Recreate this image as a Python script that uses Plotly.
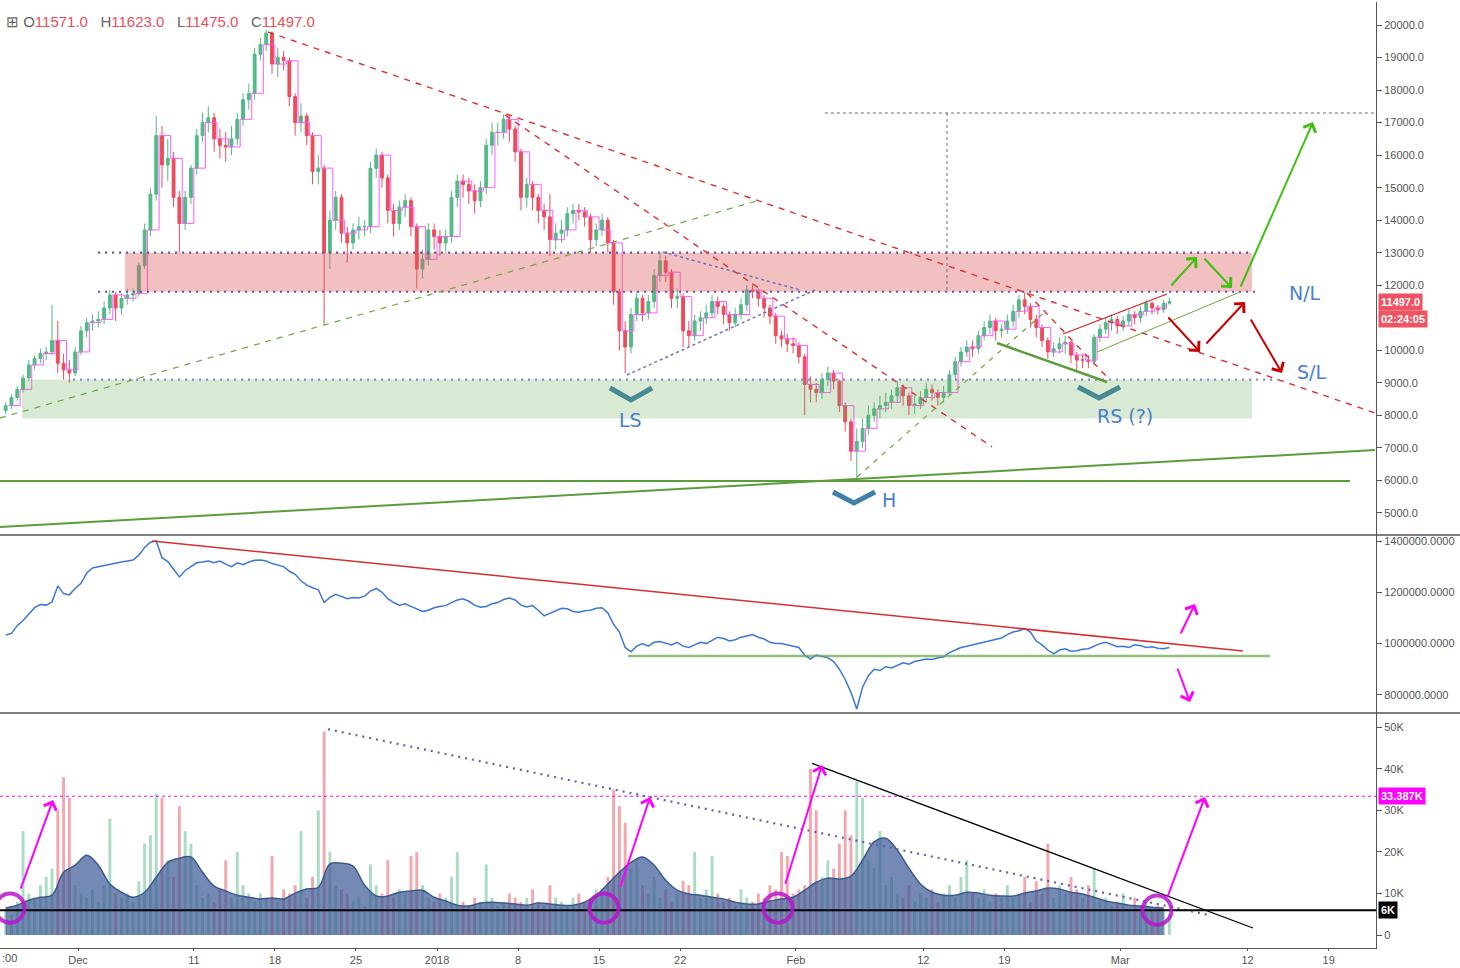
import plotly.graph_objects as go
from datetime import datetime, timedelta

# ---------------- data (12h candles, BTCUSD) ----------------
closes = [
    8300, 8550, 8800, 9150, 9550, 9750, 9900, 9950, 10300, 9600,
    9400, 9300, 9950, 10600, 10850, 10900, 10950, 11300, 11700, 11300,
    11600, 11700, 11750, 12600, 13700, 14800, 16600, 15700, 15900, 14700,
    13900, 14700, 15600, 16600, 17000, 17150, 16500, 16300, 16250, 16500,
    17100, 17700, 17900, 19100, 19400, 19750, 18800, 19000, 18900, 17800,
    17000, 17200, 16600, 15500, 15600, 13000, 14000, 14700, 13600, 13300,
    13700, 13800, 13800, 15600, 16000, 15300, 14300, 13900, 14400, 14600,
    13800, 12500, 12800, 13700, 13500, 13300, 13500, 14700, 15200, 15100,
    14900, 14600, 15000, 16300, 16700, 16700, 17100, 16800, 16100, 14700,
    15100, 14700, 14300, 14100, 13400, 13600, 13700, 14200, 14300, 14250,
    14100, 13400, 13700, 14000, 13300, 11800, 10600, 10100, 11100, 11600,
    11150, 11500, 12300, 12750, 12400, 11600, 11650, 10600, 10450, 10900,
    11000, 11150, 11500, 11350, 11100, 10850, 11100, 11400, 11850, 11800,
    11600, 11300, 11050, 10450, 10350, 10200, 10150, 9800, 8950, 8800,
    8700, 9100, 9300, 9050, 8300, 7800, 6900, 7200, 7600, 8000,
    8200, 8300, 8400, 8600, 8850, 8600, 8300, 8350, 8550, 8800,
    8700, 8550, 8700, 9250, 9650, 9950, 10100, 10050, 10450, 10700,
    10900, 10600, 10650, 10900, 11200, 11550, 11350, 10950, 10700, 10300,
    9950, 10050, 10200, 10250, 9850, 9700, 9700, 9650, 10400, 10650,
    10850, 10950, 10750, 10900, 11100, 11000, 11200, 11450, 11300, 11250,
    11450, 11497,
]
highs = [
    8400, 8650, 8900, 9250, 9700, 9850, 10050, 10100, 11400, 10900,
    9900, 9700, 10100, 10750, 11000, 11100, 11200, 11500, 11850, 11800,
    11750, 11900, 11900, 12700, 13900, 15000, 17200, 16900, 16500, 16100,
    14900, 14900, 15700, 16800, 17300, 17500, 17300, 16800, 16700, 16900,
    17300, 17900, 18200, 19300, 19600, 19850, 19800, 19300, 19200, 19000,
    17900, 17600, 17300, 16700, 16000, 15700, 14300, 14900, 14800, 13800,
    13900, 14100, 14000, 15800, 16200, 16100, 15400, 14500, 14600, 14800,
    14700, 13900, 13100, 13900, 13900, 13700, 13700, 14900, 15400, 15400,
    15300, 15100, 15200, 16500, 17000, 17000, 17250, 17200, 16900, 16200,
    15300, 15200, 14800, 14500, 14800, 13900, 14000, 14400, 14500, 14500,
    14400, 14200, 13900, 14200, 14100, 13400, 11900, 10900, 11300, 11800,
    11700, 11700, 12500, 13000, 12900, 12500, 11900, 11750, 10900, 11100,
    11200, 11400, 11700, 11650, 11450, 11200, 11300, 11600, 12000, 12050,
    11900, 11700, 11400, 11150, 10600, 10500, 10400, 10250, 9900, 9200,
    9000, 9300, 9500, 9400, 9100, 8400, 7900, 7600, 7900, 8300,
    8400, 8600, 8700, 8800, 9050, 8950, 8700, 8600, 8750, 9000,
    8950, 8800, 8900, 9400, 9800, 10100, 10300, 10300, 10600, 10900,
    11100, 11000, 10800, 11100, 11400, 11700, 11780, 11450, 11100, 10800,
    10400, 10250, 10400, 10450, 10300, 9950, 9900, 9850, 10500, 10800,
    11000, 11100, 11050, 11050, 11250, 11200, 11350, 11550, 11500, 11400,
    11550, 11623,
]
lows = [
    8050, 8200, 8450, 8700, 9050, 9400, 9600, 9700, 9850, 9300,
    9100, 9000, 9200, 9850, 10400, 10600, 10700, 10800, 11100, 10900,
    11100, 11400, 11500, 11650, 12500, 13500, 14600, 15000, 15200, 14400,
    13000, 13700, 14500, 15400, 16400, 16700, 16100, 15900, 15800, 16000,
    16300, 16900, 17400, 17700, 18900, 19200, 18500, 18400, 18600, 17500,
    16600, 16700, 16300, 15100, 15100, 10800, 12500, 13700, 13300, 12700,
    13100, 13400, 13500, 13600, 15300, 15000, 13900, 13500, 13700, 14100,
    13500, 11900, 12200, 12600, 13100, 12900, 13000, 13300, 14400, 14700,
    14500, 14200, 14400, 14800, 16000, 16300, 16500, 16400, 15800, 14300,
    14400, 14300, 13900, 13700, 12900, 13100, 13300, 13500, 13900, 14000,
    13800, 13000, 13200, 13500, 13000, 11400, 10000, 9300, 9900, 10900,
    10900, 10950, 11300, 12100, 12100, 11300, 11300, 10100, 10100, 10300,
    10600, 10800, 11000, 11100, 10800, 10600, 10700, 10950, 11200, 11600,
    11350, 11000, 10800, 10200, 10100, 9950, 9900, 9600, 8000, 8400,
    8400, 8500, 8900, 8800, 8100, 7500, 6600, 6000, 7000, 7400,
    7800, 7900, 8100, 8200, 8400, 8300, 8000, 8050, 8200, 8400,
    8450, 8300, 8400, 8600, 9100, 9500, 9800, 9800, 9900, 10300,
    10500, 10300, 10400, 10500, 10700, 11000, 11100, 10700, 10400, 10100,
    9750, 9800, 9900, 9900, 9600, 9400, 9450, 9450, 9550, 10250,
    10500, 10600, 10500, 10600, 10750, 10800, 10850, 11050, 11100, 11100,
    11150, 11400,
]
first_open = 8150

indicator = [
    1033000, 1040000, 1070000, 1090000, 1115000, 1140000, 1152000, 1150000, 1162000, 1225000,
    1195000, 1190000, 1215000, 1235000, 1275000, 1295000, 1300000, 1305000, 1310000, 1315000,
    1318000, 1322000, 1326000, 1345000, 1375000, 1395000, 1400000, 1335000, 1320000, 1290000,
    1260000, 1285000, 1300000, 1315000, 1318000, 1322000, 1315000, 1322000, 1310000, 1300000,
    1315000, 1308000, 1318000, 1325000, 1326000, 1322000, 1312000, 1306000, 1300000, 1282000,
    1270000, 1245000, 1228000, 1218000, 1210000, 1160000, 1180000, 1192000, 1185000, 1175000,
    1180000, 1178000, 1185000, 1205000, 1215000, 1200000, 1175000, 1160000, 1150000, 1155000,
    1145000, 1135000, 1125000, 1130000, 1140000, 1145000, 1148000, 1160000, 1170000, 1175000,
    1165000, 1150000, 1142000, 1145000, 1155000, 1160000, 1172000, 1178000, 1170000, 1150000,
    1143000, 1148000, 1130000, 1108000, 1118000, 1130000, 1138000, 1136000, 1125000, 1122000,
    1128000, 1130000, 1138000, 1140000, 1120000, 1075000, 1045000, 985000, 968000, 990000,
    1000000, 990000, 1005000, 1008000, 1000000, 995000, 1005000, 990000, 985000, 995000,
    1005000, 1000000, 1012000, 1025000, 1020000, 1010000, 1015000, 1025000, 1030000, 1035000,
    1025000, 1018000, 1005000, 1000000, 1000000, 995000, 992000, 985000, 955000, 940000,
    955000, 950000, 945000, 930000, 900000, 860000, 810000, 745000, 830000, 875000,
    900000, 895000, 910000, 905000, 915000, 925000, 920000, 930000, 935000, 940000,
    938000, 945000, 948000, 965000, 975000, 985000, 990000, 995000, 1000000, 1005000,
    1010000, 1015000, 1022000, 1035000, 1045000, 1050000, 1058000, 1045000, 1010000, 995000,
    975000, 960000, 975000, 980000, 970000, 972000, 978000, 980000, 990000, 1000000,
    1005000, 995000, 988000, 990000, 985000, 995000, 992000, 985000, 988000, 982000,
    980000, 985000,
]

volume_k = [
    6, 5, 8, 25, 10, 9, 12, 14, 16, 30,
    38, 33, 12, 10, 9, 11, 8, 12, 28, 10,
    9, 10, 8, 13, 22, 24, 34, 33, 18, 14,
    31, 25, 22, 12, 9, 10, 8, 11, 18, 9,
    20, 12, 10, 8, 10, 9, 19, 8, 11, 10,
    12, 25, 9, 14, 30, 49, 20, 12, 11, 10,
    8, 9, 7, 17, 12, 10, 18, 9, 11, 10,
    19, 20, 12, 9, 8, 10, 9, 14, 20, 8,
    7, 9, 8, 17, 9, 7, 8, 10, 9, 8,
    9, 11, 8, 7, 12, 9, 8, 7, 9, 10,
    8, 9, 11, 10, 14, 35, 31, 27, 16, 18,
    12, 10, 14, 9, 11, 8, 10, 13, 12, 20,
    9, 11, 19, 10, 8, 9, 7, 11, 9, 8,
    10, 9, 12, 11, 20, 19, 10, 11, 12, 40,
    30, 14, 18, 16, 22, 30, 24, 37, 33, 18,
    16, 25, 12, 14, 10, 9, 12, 8, 10, 9,
    11, 8, 10, 12, 9, 14, 18, 10, 9, 11,
    8, 10, 9, 12, 9, 10, 14, 8, 13, 10,
    22, 9, 12, 10, 14, 11, 9, 12, 16, 8,
    9, 7, 8, 10, 6, 9, 7, 8, 6, 7,
    6, 5,
]
# smoothed volume (one value per day)
volume_ma_k = [
    6.5, 7.2, 8.4, 9.1, 9.6, 15.1, 16.8, 19.2, 16.8, 12.3,
    10.3, 9.1, 10.3, 13.9, 17.5, 18.5, 18.8, 15.1, 11.8, 10.6,
    9.6, 9.1, 8.7, 8.9, 8.7, 10.1, 11.1, 11.5, 17.1, 17.3,
    16.6, 12.0, 9.4, 9.4, 10.3, 10.6, 10.8, 9.1, 8.2, 7.2,
    7.0, 7.7, 7.9, 7.7, 7.5, 7.2, 7.7, 7.5, 7.2, 7.2,
    7.9, 9.6, 12.3, 15.1, 17.5, 18.8, 16.8, 13.2, 10.8, 9.9,
    9.6, 9.1, 8.7, 7.9, 7.5, 7.5, 8.2, 8.7, 9.1, 10.8,
    12.7, 13.7, 13.5, 14.2, 18.0, 22.4, 23.3, 20.4, 16.1, 12.3,
    10.3, 9.6, 9.6, 10.3, 10.1, 9.6, 9.4, 9.4, 10.1, 10.6,
    11.3, 11.1, 10.3, 9.9, 9.1, 8.2, 7.7, 7.2, 7.0, 6.7,
    6.5,
]

price_ticks = [20000, 19000, 18000, 17000, 16000, 15000, 14000, 13000, 12000,
               10000, 9000, 8000, 7000, 6000, 5000]
ind_ticks = [1400000, 1200000, 1000000, 800000]
vol_ticks = [0, 10, 20, 30, 40, 50]
x_tick_dates = ["2017-12-01", "2017-12-11", "2017-12-18", "2017-12-25", "2018-01-01",
                "2018-01-08", "2018-01-15", "2018-01-22", "2018-02-01", "2018-02-12",
                "2018-02-19", "2018-03-01", "2018-03-12", "2018-03-19"]
x_tick_text = ["Dec", "11", "18", "25", "2018", "8", "15", "22", "Feb", "12", "19",
               "Mar", "12", "19"]

N = len(closes)
assert len(highs) == N and len(lows) == N and len(indicator) == N and len(volume_k) == N
assert len(volume_ma_k) == (N + 1) // 2

BASE = datetime(2017, 12, 1)


def T(day):
    return (BASE + timedelta(days=day)).strftime("%Y-%m-%d %H:%M:%S")


start = datetime(2017, 11, 24, 12)
starts = [start + timedelta(hours=12 * i) for i in range(N)]
centers = [(t + timedelta(hours=6)).strftime("%Y-%m-%d %H:%M:%S") for t in starts]
opens = [first_open] + closes[:-1]
step_x = [(starts[i] + timedelta(hours=12)).strftime("%Y-%m-%d %H:%M:%S") for i in range(0, N, 2)]
step_y = closes[0::2]

GREEN = "#53b987"
RED = "#eb4d5c"

fig = go.Figure()

# price candles
fig.add_trace(go.Candlestick(
    x=centers, open=opens, high=highs, low=lows, close=closes,
    increasing=dict(line=dict(color=GREEN, width=1), fillcolor=GREEN),
    decreasing=dict(line=dict(color=RED, width=1), fillcolor=RED),
    whiskerwidth=0, xaxis="x", yaxis="y", hoverinfo="skip"))
fig.add_trace(go.Scatter(x=step_x, y=step_y, mode="lines", xaxis="x", yaxis="y",
                         line=dict(color="#ff5cff", width=1, shape="hv"), hoverinfo="skip"))

# indicator panel
fig.add_trace(go.Scatter(x=centers, y=indicator, mode="lines", xaxis="x", yaxis="y2",
                         line=dict(color="#3b78d6", width=1.5), hoverinfo="skip"))

# volume panel
vcolors = ["rgba(83,185,135,0.5)" if c >= o else "rgba(235,77,92,0.5)" for o, c in zip(opens, closes)]
fig.add_trace(go.Bar(x=centers, y=volume_k, marker=dict(color=vcolors, line=dict(width=0)),
                     width=12 * 3600 * 1000 * 0.5, xaxis="x", yaxis="y3", hoverinfo="skip"))
fig.add_trace(go.Scatter(x=centers[0::2], y=volume_ma_k, mode="lines", fill="tozeroy",
                         fillcolor="rgba(62,92,150,0.72)", xaxis="x", yaxis="y3",
                         line=dict(color="#3b5b8f", width=1.5, shape="spline"), hoverinfo="skip"))

# chevrons (LS / H / RS)
chev_color = "#3f7faa"
for (d0, d1, d2, vt, vb) in [(45.94, 47.75, 49.57, 8842, 8473),
                             (65.2, 67.01, 68.83, 5644, 5306),
                             (86.36, 88.17, 89.98, 8872, 8534)]:
    fig.add_trace(go.Scatter(x=[T(d0), T(d1), T(d2)], y=[vt, vb, vt], mode="lines",
                             xaxis="x", yaxis="y", line=dict(color=chev_color, width=5),
                             hoverinfo="skip"))

shapes = []


def seg(d0, v0, d1, v1, color, width=1.0, dash="solid", yref="y", layer="above"):
    shapes.append(dict(type="line", xref="x", yref=yref, x0=T(d0), y0=v0, x1=T(d1), y1=v1,
                       line=dict(color=color, width=width, dash=dash), layer=layer))


# zones
shapes.append(dict(type="rect", xref="x", yref="y", x0=T(4.06), x1=T(101.38), y0=11800, y1=13000,
                   fillcolor="rgba(220,90,90,0.38)", line=dict(width=0), layer="above"))
shapes.append(dict(type="rect", xref="x", yref="y", x0=T(-4.84), x1=T(101.38), y0=7900, y1=9100,
                   fillcolor="rgba(100,170,80,0.25)", line=dict(width=0), layer="above"))
# dotted horizontal levels
DOTS = "2px,5px"
seg(1.73, 13000, 101.38, 13000, "#5a55a5", 2.2, DOTS)
seg(1.73, 11800, 101.9, 11800, "#5a55a5", 2.2, DOTS)
seg(-0.43, 9100, 103.6, 9100, "#8a86c6", 2.2, DOTS)
# red dashed trend lines
seg(16.41, 19785, 112.0, 8073, "#e03030", 1.4, "6px,6px")
seg(36.87, 17233, 78.93, 7028, "#e03030", 1.4, "6px,6px")
seg(81.95, 11762, 88.86, 9180, "#e03030", 1.4, "6px,6px")
# green dashed
seg(-6.74, 7919, 58.9, 14620, "#6aaa3a", 1.2, "6px,6px")
seg(67.27, 6105, 83.68, 11239, "#6aaa3a", 1.2, "5px,6px")
# purple dotted triangle lines
seg(47.4, 9240, 63.64, 11854, "#7070c0", 1.5, "dot")
seg(50.5, 13022, 62.35, 11854, "#7070c0", 1.5, "dot")
# measured move (gray dotted)
seg(64.5, 17295, 112.1, 17295, "#707070", 1, "dot")
seg(75.04, 17295, 75.04, 11800, "#707070", 1, "dot")
# green solid support lines
seg(-6.74, 5983, 109.84, 5983, "#5a9e3c", 2)
seg(-6.74, 4568, 112.0, 6935, "#5a9e3c", 2)
seg(79.36, 10225, 88.86, 9026, "#5a9e3c", 2.5)
seg(88.0, 9948, 100.35, 11793, "#6aaa3a", 1)
# red channel line
seg(85.06, 10501, 94.04, 11731, "#d02020", 1.2)

# indicator panel lines
seg(6.39, 1400000, 100.6, 971100, "#d43030", 1.5, yref="y2")
seg(47.5, 951600, 102.94, 951600, "rgba(110,170,80,0.75)", 2.5, yref="y2")

# volume panel lines
seg(-6.74, 33.387, 112.1, 33.387, "#ff00ff", 1, "dot", yref="y3")
seg(21.59, 49.5, 97.75, 4.8, "#6060b0", 2.2, DOTS, yref="y3")
seg(63.39, 41.3, 101.47, 1.7, "#000000", 1.2, yref="y3")
seg(-6.74, 6, 112.1, 6, "#000000", 2, yref="y3")

# circles on volume
for (dc, vc) in [(-5.87, 6.5), (45.42, 6.5), (60.45, 6.5), (93.18, 6.0)]:
    shapes.append(dict(type="circle", xref="x", yref="y3", x0=T(dc - 1.25), x1=T(dc + 1.25),
                       y0=vc - 3.5, y1=vc + 3.5, line=dict(color="rgba(185,20,205,0.85)", width=4),
                       layer="above"))

# panel separators
y_div1 = (948 - 535) / 946
y_div2 = (948 - 713) / 946
for yy in (y_div1, y_div2):
    shapes.append(dict(type="line", xref="paper", yref="paper", x0=0, x1=1.062, y0=yy, y1=yy,
                       line=dict(color="#555555", width=1.5)))

annotations = []


def arrow(d0, v0, d1, v1, color, yref="y"):
    annotations.append(dict(x=T(d1), y=v1, ax=T(d0), ay=v0, xref="x", yref=yref,
                            axref="x", ayref=yref, showarrow=True, arrowhead=4,
                            arrowsize=1.3, arrowwidth=2, arrowcolor=color, text=""))


LG = "#3fbf10"
arrow(94.3, 11946, 96.63, 12868, LG)
arrow(97.15, 12868, 99.65, 11915, LG)
arrow(100.35, 11915, 106.65, 17018, LG)
DR = "#cc0000"
arrow(94.04, 11055, 96.89, 9948, DR)
arrow(97.32, 10163, 100.78, 11485, DR)
arrow(101.2, 10993, 103.97, 9302, DR)
MG = "#ff00ff"
arrow(95.16, 1033500, 96.46, 1154400, MG, "y2")
arrow(94.9, 908700, 96.03, 772300, MG, "y2")
arrow(-5.0, 10.8, -2.16, 32.5, MG, "y3")
arrow(46.8, 11.3, 49.4, 33.2, MG, "y3")
arrow(61.05, 12.0, 64.25, 40.9, MG, "y3")
arrow(94.04, 8.9, 97.32, 33.2, MG, "y3")

LBL = dict(family="DejaVu Sans", size=19, color="#4a7fcf")
for (txt, d, v) in [("LS", 47.75, 7857), ("H", 70.03, 5398), ("RS (?)", 90.41, 7980),
                    ("N/L", 105.96, 11762), ("S/L", 106.48, 9333)]:
    annotations.append(dict(x=T(d), y=v, xref="x", yref="y", text=txt, showarrow=False,
                            font=LBL, xanchor="center", yanchor="middle"))

# price / value tags on the axis
for (txt, yv, yref, bg) in [("11497.0", 11497, "y", "#ef5362"), ("02:24:05", 10962, "y", "#ef5362"),
                            ("33.387K", 33.387, "y3", "#ff00ff"), ("6K", 6, "y3", "#000000")]:
    annotations.append(dict(x=1.0015, xref="paper", y=yv, yref=yref, text="<b>" + txt + "</b>",
                            showarrow=False, xanchor="left", yanchor="middle", bgcolor=bg,
                            borderpad=2, font=dict(color="white", size=11, family="Liberation Sans")))

# OHLC header
g = "#666666"
r = "#e8505b"
hdr = (f"<span style='color:{g}'>⊞ O</span><span style='color:{r}'>11571.0</span>"
       f"<span style='color:{g}'>   H</span><span style='color:{r}'>11623.0</span>"
       f"<span style='color:{g}'>   L</span><span style='color:{r}'>11475.0</span>"
       f"<span style='color:{g}'>   C</span><span style='color:{r}'>11497.0</span>")
annotations.append(dict(x=4 / 1376, y=(948 - 21) / 946, xref="paper", yref="paper", text=hdr,
                        showarrow=False, xanchor="left", yanchor="middle",
                        font=dict(size=15, family="Liberation Sans")))
annotations.append(dict(x=0, y=(948 - 958) / 946, xref="paper", yref="paper", text=":00",
                        showarrow=False, xanchor="left", yanchor="middle",
                        font=dict(size=11, color="#555555", family="Liberation Sans")))

axis_common = dict(showgrid=False, zeroline=False, showline=True, linecolor="#555555",
                   ticks="outside", ticklen=5, tickcolor="#555555", side="right", anchor="x",
                   tickfont=dict(size=11, color="#555555", family="Liberation Sans"))

fig.update_layout(
    width=1460, height=968,
    margin=dict(l=0, r=84, t=2, b=20),
    paper_bgcolor="white", plot_bgcolor="white",
    showlegend=False, bargap=0.3,
    xaxis=dict(type="date", range=[T(-6.74), T(112.09)], showgrid=False, zeroline=False,
               tickvals=x_tick_dates, ticktext=x_tick_text, ticks="outside", ticklen=2,
               tickcolor="#555555", showline=True, linecolor="#555555", anchor="y3",
               tickfont=dict(size=11, color="#555555", family="Liberation Sans"),
               rangeslider=dict(visible=False)),
    yaxis=dict(domain=[y_div1, 1], range=[4322, 20707], tickvals=price_ticks,
               ticktext=[f"{v}.0" for v in price_ticks], **axis_common),
    yaxis2=dict(domain=[y_div2, y_div1], range=[729400, 1423400], tickvals=ind_ticks,
                ticktext=[f"{v}.0000" for v in ind_ticks], **axis_common),
    yaxis3=dict(domain=[0, y_div2], range=[-3.1, 53.4], tickvals=vol_ticks,
                ticktext=["0" if v == 0 else f"{v}K" for v in vol_ticks], **axis_common),
    shapes=shapes, annotations=annotations,
    font=dict(family="Liberation Sans"),
)

fig.write_html("out.html", config={"displayModeBar": False},
               post_script="document.body.style.margin='0';document.body.style.overflow='hidden';")
